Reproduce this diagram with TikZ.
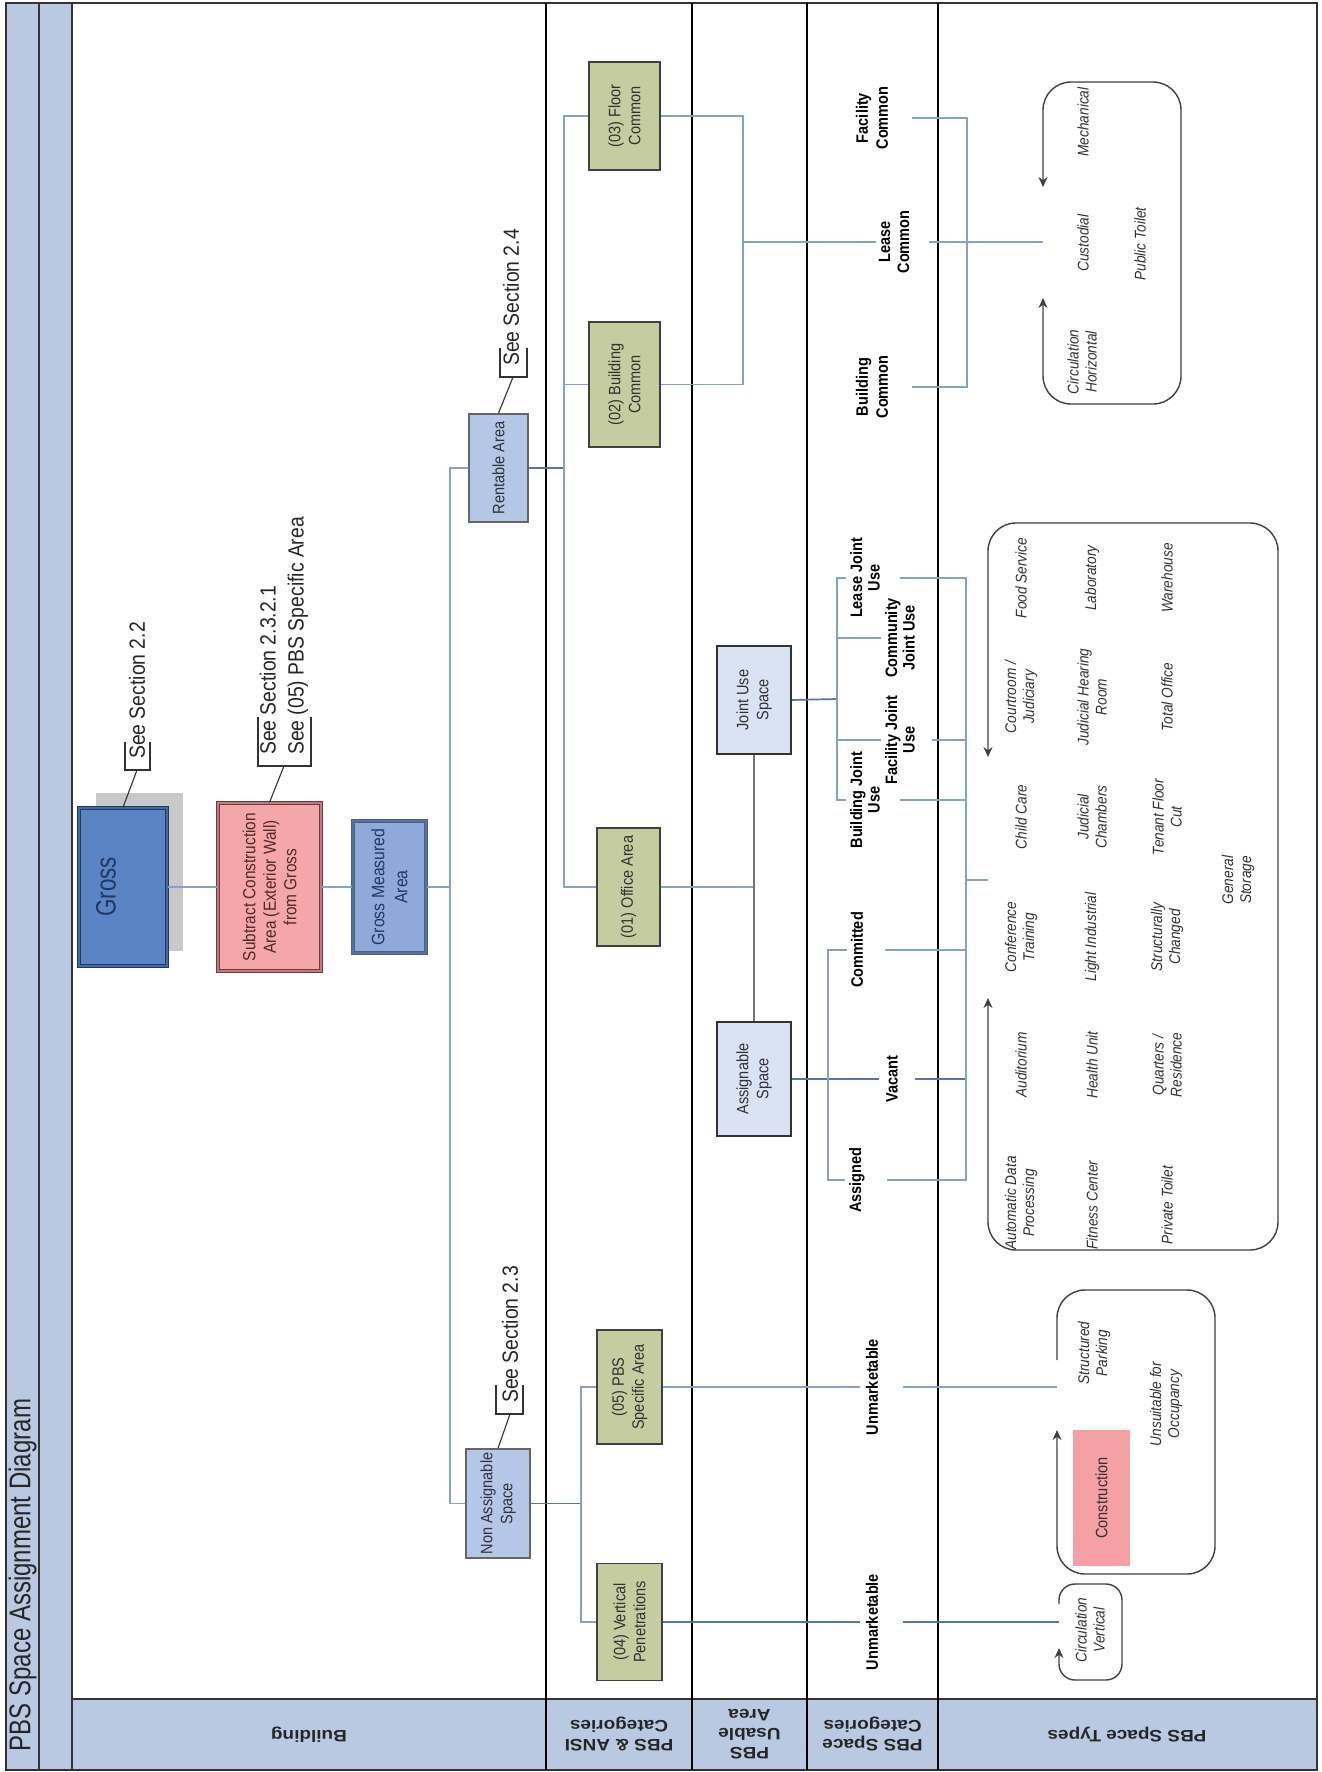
\documentclass[tikz,border=0pt]{standalone}
\usepackage{fontspec}
\setmainfont{Liberation Sans}
\newfontfamily\nf{Liberation Sans}[FakeStretch=0.88]
\newfontfamily\ttlf{Liberation Sans}[FakeStretch=0.8]
\newfontfamily\lnf{Liberation Sans}[FakeStretch=1.15]
\usetikzlibrary{arrows.meta,calc}
\definecolor{strip}{RGB}{185,201,226}
\definecolor{grossblue}{RGB}{91,132,196}
\definecolor{navy}{RGB}{31,56,100}
\definecolor{subpink}{RGB}{244,166,168}
\definecolor{subbrd}{RGB}{110,60,60}
\definecolor{gmablue}{RGB}{143,170,218}
\definecolor{rentblue}{RGB}{180,199,231}
\definecolor{olive}{RGB}{197,204,160}
\definecolor{pale}{RGB}{218,227,243}
\definecolor{lineblue}{RGB}{135,160,210}
\definecolor{dlineblue}{RGB}{85,115,180}
\definecolor{txt}{RGB}{50,50,50}
\definecolor{shadowgray}{RGB}{200,200,200}
\definecolor{conspink}{RGB}{244,160,165}
\begin{document}
\begin{tikzpicture}[x=1pt,y=-1pt,
  frm/.style={draw=black!80, line width=1.6pt},
  lanel/.style={draw=black, line width=1.8pt},
  conn/.style={draw=lineblue, line width=1.3pt},
  dconn/.style={draw=dlineblue, line width=1.7pt},
  gconn/.style={draw=black!55, line width=1.2pt},
  bt/.style={rotate=90, align=center, inner sep=0pt, text=txt, font=\nf\fontsize{16.5}{20}\selectfont},
  catlbl/.style={rotate=90, align=center, inner sep=0pt, text=black, font=\nf\bfseries\fontsize{16.5}{17.5}\selectfont},
  typ/.style={rotate=90, align=center, inner sep=0pt, text=txt, font=\nf\itshape\fontsize{15.5}{18}\selectfont},
  seetxt/.style={rotate=90, align=left, anchor=west, inner sep=0pt, text=black!85, font=\nf\fontsize{22}{28}\selectfont},
  brk/.style={draw=black!80, line width=1.1pt},
  lanelbl/.style={rotate=180, align=center, inner sep=0pt, text=black!85, font=\lnf\bfseries\fontsize{16.5}{19}\selectfont},
  tbox/.style={draw=black!75, line width=1.4pt, rounded corners=28pt},
  arrboth/.style={{Stealth[length=10pt,width=9pt]}-{Stealth[length=10pt,width=9pt]}},
  arrend/.style={-{Stealth[length=10pt,width=9pt]}},
  gbox/.style={draw=black!75, fill=olive, line width=1.6pt, inner sep=0pt},
  rbox/.style={draw=black!60, fill=rentblue, line width=1.4pt, inner sep=0pt},
  jbox/.style={draw=black!80, fill=pale, line width=1.6pt, inner sep=0pt}
]
\useasboundingbox (0,0) rectangle (1322,1772);
\fill[white] (0,0) rectangle (1322,1772);
% frame and lanes
\fill[strip] (6,3) rectangle (72,1770);
\fill[strip] (72,1699) rectangle (1317,1770);
\draw[frm] (6,3) rectangle (1317,1770);
\draw[frm] (39,3) -- (39,1770);
\draw[frm] (72,3) -- (72,1770);
\draw[frm] (72,1699) -- (1317,1699);
\foreach \x in {546,692,807,938} \draw[lanel] (\x,3) -- (\x,1770);
\node[rotate=90, inner sep=0pt, text=black!85, font=\ttlf\fontsize{30}{34}\selectfont] (title) at (22.5,1575) {PBS Space Assignment Diagram};
% lane labels
\node[lanelbl] (l1) at (309,1735) {Building};
\node[lanelbl] (l2) at (619,1734) {PBS \& ANSI\\Categories};
\node[lanelbl] (l3) at (749.5,1734) {PBS\\Usable\\Area};
\node[lanelbl] (l4) at (872.5,1734) {PBS Space\\Categories};
\node[lanelbl] (l5) at (1127,1735) {PBS Space Types};

% Building lane
\fill[shadowgray] (96,793) rectangle (183,951);
\node[draw=navy, fill=grossblue, line width=1.3pt, double=navy!35!grossblue, double distance=1.3pt, minimum width=88pt, minimum height=158pt, inner sep=0pt] (gross) at (123,887) {};
\node[bt, text=navy, font=\ttlf\fontsize{28}{32}\selectfont] (grosst) at (106,887) {Gross};
\node[draw=subbrd, fill=subpink, line width=1.2pt, double=subpink!60!subbrd, double distance=1.2pt, minimum width=103pt, minimum height=168pt, inner sep=0pt] (sub) at (269.5,887) {};
\node[bt, text=subbrd!70!black, font=\nf\fontsize{17.5}{20.5}\selectfont] (subt) at (sub) {Subtract Construction\\Area (Exterior Wall)\\from Gross};
\node[draw=navy!80, fill=gmablue, line width=1.2pt, double=gmablue!50!navy, double distance=1.2pt, minimum width=73pt, minimum height=132pt, inner sep=0pt] (gma) at (389.5,887) {};
\node[bt, text=navy, font=\nf\fontsize{18}{23}\selectfont] (gmat) at (gma) {Gross Measured\\Area};
\node[rbox, minimum width=59pt, minimum height=108pt] (rent) at (498.5,468) {};
\node[bt] (rentt) at (rent) {Rentable Area};
\node[rbox, minimum width=64pt, minimum height=109pt] (na) at (498,1503.5) {};
\node[bt] (nat) at (na) {Non Assignable\\Space};

% callouts
\coordinate (cg) at (137,770);
\draw[brk] (gross.north) -- (cg);
\draw[brk] (125,742) -- (125,770) -- (150,770) -- (150,742);
\node[seetxt] (sg) at (137,759) {See Section 2.2};
\coordinate (cs) at (284,766);
\draw[brk] (sub.north) -- (cs);
\draw[brk] (258,717) -- (258,766) -- (311,766) -- (311,717);
\node[seetxt] (ss) at (284,755) {See Section 2.3.2.1\\See (05) PBS Specific Area};
\coordinate (cr) at (513,377);
\draw[brk] (rent.north) -- (cr);
\draw[brk] (500,348) -- (500,377) -- (527,377) -- (527,348);
\node[seetxt] (sr) at (511,366) {See Section 2.4};
\coordinate (cn) at (510,1414);
\draw[brk] (na.north) -- (cn);
\draw[brk] (496,1385) -- (496,1414) -- (523,1414) -- (523,1385);
\node[seetxt] (sn) at (510,1403) {See Section 2.3};

% connectors building lane
\draw[conn] (gross.east) -- (sub.west);
\draw[conn] (sub.east) -- (gma.west);
\coordinate (bus1) at (450,887);
\draw[conn] (gma.east) -- (bus1);
\draw[conn] (rent.west) -| (bus1);
\draw[conn] (na.west) -| (bus1);

% PBS & ANSI categories
\node[gbox, minimum width=71pt, minimum height=108pt] (fc) at (624.5,116) {};
\node[bt] (fct) at (fc) {(03) Floor\\Common};
\node[gbox, minimum width=71pt, minimum height=125pt] (bcm) at (624.5,384.5) {};
\node[bt] (bcmt) at (bcm) {(02) Building\\Common};
\node[gbox, minimum width=63pt, minimum height=118pt] (off) at (628.5,887) {};
\node[bt] (offt) at (off) {(01) Office Area};
\node[gbox, minimum width=65pt, minimum height=114pt] (p05) at (629.5,1387) {};
\node[bt] (p05t) at (p05) {(05) PBS\\Specific Area};
\node[gbox, minimum width=65pt, minimum height=117pt] (p04) at (629.5,1622) {};
\node[bt] (p04t) at (p04) {(04) Vertical\\Penetrations};

\coordinate (bus2) at (564,468);
\draw[dconn] (rent.east) -- (bus2);
\draw[conn] (fc.west) -| (bus2);
\draw[conn] (bcm.west) -| (bus2);
\draw[conn] (off.west) -| (bus2);
\coordinate (bus3) at (581,1503.5);
\draw[dconn] (na.east) -- (bus3);
\draw[conn] (p05.west) -| (bus3);
\draw[conn] (p04.west) -| (bus3);

% PBS usable area
\node[jbox, minimum width=74pt, minimum height=108pt] (ju) at (754,700) {};
\node[bt] (jut) at (ju) {Joint Use\\Space};
\node[jbox, minimum width=74pt, minimum height=114pt] (asg) at (754,1079) {};
\node[bt] (asgt) at (asg) {Assignable\\Space};
\coordinate (ob) at (754,887);
\draw[conn] (off.east) -- (ob);
\draw[gconn] (ju.south) -- (asg.north);

% PBS space categories
\coordinate (bus4) at (743,242);
\draw[conn] (fc.east) -| (bus4);
\draw[conn] (bcm.east) -| (bus4);
\node[catlbl, font=\nf\bfseries\fontsize{16.5}{19}\selectfont] (lc) at (894,242) {Lease\\Common};
\node[catlbl, font=\nf\bfseries\fontsize{16.5}{20}\selectfont] (bcl) at (872,387) {Building\\Common};
\node[catlbl, font=\nf\bfseries\fontsize{16.5}{20}\selectfont] (fcl) at (872,118) {Facility\\Common};
\draw[conn, shorten >=3pt] (bus4) -- (lc.north);
\coordinate (cin) at (1043,242);
\draw[conn, shorten <=20pt] (lc.south) -- (cin);
\coordinate (bus5) at (967,242);
\draw[conn, shorten <=24pt] (fcl.south) -| (bus5);
\draw[conn, shorten <=24pt] (bcl.south) -| (bus5);

\node[catlbl] (com) at (857,950) {Committed};
\node[catlbl] (vac) at (892,1079) {Vacant};
\node[catlbl] (asd) at (857,1180) {Assigned};
\coordinate (bus6) at (828,1079);
\draw[dconn, shorten >=7pt] (asg.east) -- (vac.north);
\draw[conn, shorten >=4pt] (bus6) |- (com.north);
\draw[conn, shorten >=4pt] (bus6) |- (asd.north);
\coordinate (bus7) at (966,880);
\draw[conn, shorten <=22pt] (com.south) -| (bus7);
\draw[dconn, shorten <=17pt] (vac.south) -| (bus7);
\draw[conn, shorten <=22pt] (asd.south) -| (bus7);
\coordinate (bin) at (988,880);
\draw[conn] (bus7) -- (bin);

\node[catlbl] (lju) at (865,578) {Lease Joint\\Use};
\node[catlbl] (cju) at (900,638) {Community\\Joint Use};
\node[catlbl] (fju) at (900,740) {Facility Joint\\Use};
\node[catlbl] (bju) at (865,800) {Building Joint\\Use};
\coordinate (bus8) at (837,699);
\draw[dconn] (ju.east) -- (bus8);
\foreach \n in {lju,cju,fju,bju} \draw[conn, shorten >=4pt] (bus8) |- (\n.north);
\draw[conn, shorten <=20pt] (lju.south) -| (bus7);
\draw[conn, shorten <=17pt] (fju.south) -| (bus7);
\draw[conn, shorten <=20pt] (bju.south) -| (bus7);

\node[catlbl] (um5) at (872,1387) {Unmarketable};
\node[catlbl] (um4) at (872,1622) {Unmarketable};
\draw[conn, shorten >=6pt] (p05.east) -- (um5.north);
\draw[dconn, shorten >=6pt] (p04.east) -- (um4.north);
\coordinate (kin) at (1057,1387);
\coordinate (vin) at (1059,1622);
\draw[conn, shorten <=25pt] (um5.south) -- (kin);
\draw[dconn, shorten <=25pt] (um4.south) -- (vin);

% PBS space types
\draw[tbox, arrboth] (1043,187) -- (1043,82) -- (1181,82) -- (1181,404) -- (1043,404) -- (1043,298);
\node[typ] (tmech) at (1083,122) {Mechanical};
\node[typ] (tcust) at (1083,243) {Custodial};
\node[typ] (tpt) at (1140,244) {Public Toilet};
\node[typ] (tch) at (1082,362) {Circulation\\Horizontal};

\draw[tbox, arrboth] (988,757) -- (988,523) -- (1278,523) -- (1278,1250) -- (988,1250) -- (988,998);
\node[typ] (a1) at (1021,578) {Food Service};
\node[typ] (a2) at (1092,578) {Laboratory};
\node[typ] (a3) at (1167,578) {Warehouse};
\node[typ] (b1) at (1021,697) {Courtroom /\\Judiciary};
\node[typ] (b2) at (1092,697) {Judicial Hearing\\Room};
\node[typ] (b3) at (1167,697) {Total Office};
\node[typ] (c1) at (1021,817) {Child Care};
\node[typ] (c2) at (1092,817) {Judicial\\Chambers};
\node[typ] (c3) at (1167,817) {Tenant Floor\\Cut};
\node[typ] (d1) at (1021,937) {Conference\\Training};
\node[typ] (d2) at (1092,937) {Light Industrial};
\node[typ] (d3) at (1167,937) {Structurally\\Changed};
\node[typ] (gs) at (1238,880) {General\\Storage};
\node[typ] (e1) at (1021,1065) {Auditorium};
\node[typ] (e2) at (1092,1065) {Health Unit};
\node[typ] (e3) at (1167,1065) {Quarters /\\Residence};
\node[typ] (f1) at (1021,1203) {Automatic Data\\Processing};
\node[typ] (f2) at (1092,1205) {Fitness Center};
\node[typ] (f3) at (1167,1205) {Private Toilet};

\draw[tbox, arrend] (1057,1360) -- (1057,1290) -- (1215,1290) -- (1215,1574) -- (1057,1574) -- (1057,1430);
\node[fill=conspink, minimum width=57pt, minimum height=136pt, inner sep=0pt] (cons) at (1101.5,1498) {};
\node[bt] (const) at (cons) {Construction};
\node[typ] (tsp) at (1094,1353) {Structured\\Parking};
\node[typ] (tuo) at (1166,1404) {Unsuitable for\\Occupancy};

\draw[tbox, rounded corners=16pt, arrend] (1059,1604) -- (1059,1584) -- (1122,1584) -- (1122,1680) -- (1059,1680) -- (1059,1648);
\node[typ] (tcv) at (1090,1630) {Circulation\\Vertical};
\end{tikzpicture}
\end{document}
